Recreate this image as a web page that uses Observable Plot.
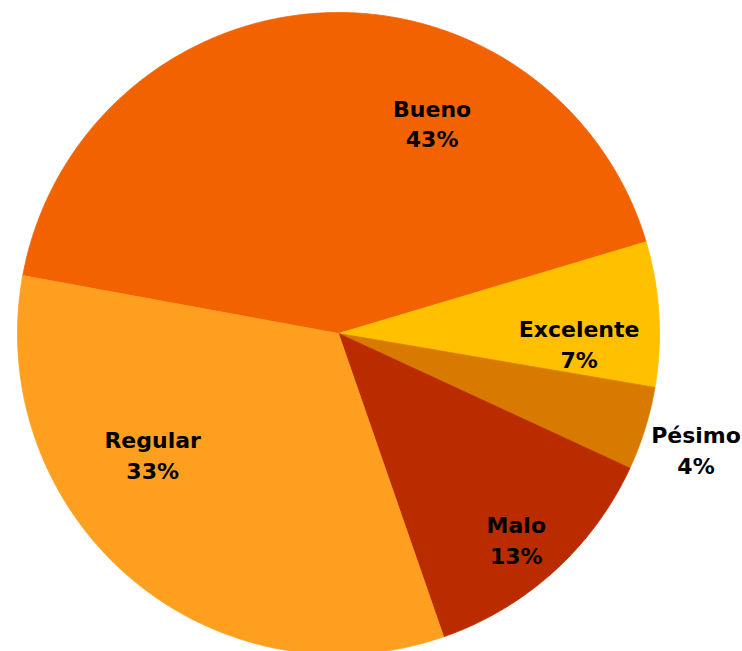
<!DOCTYPE html>
<html>
<head>
<meta charset="utf-8">
<script src="https://cdn.jsdelivr.net/npm/d3@7"></script>
<script src="https://cdn.jsdelivr.net/npm/@observablehq/plot@0.6"></script>
<style>
  html, body { margin: 0; padding: 0; background: #ffffff; }
  #chart svg { display: block; }
</style>
</head>
<body>
<div id="chart"></div>
<script>
// ---- Data ----
const categories = ["Bueno", "Excelente", "Pésimo", "Malo", "Regular"];
const values = [42.5, 7.3, 4.2, 12.8, 33.2];
const colors = ["#F36200", "#FFC000", "#D97A00", "#BA2C00", "#FF9F1F"];

// ---- Layout (label placement relative to slice middle) ----
const labelRadius = [0.72, 0.75, 1.17, 0.845, 0.69];
const labelTurnDeg = [27.0, 5.6, 0.6, 1.2, 16.4];
const startDeg = -79.6;

const W = 742, H = 651;
const cx = 338, cy = 333, R = 321;

const total = d3.sum(values);
const pie = d3.pie().sort(null).value(d => d.value)
  .startAngle(startDeg * Math.PI / 180)
  .endAngle(startDeg * Math.PI / 180 + 2 * Math.PI);

const rows = categories.map((c, i) => ({name: c, value: values[i], color: colors[i], i}));
const arcs = pie(rows);

// polygon points for each slice, in unit-circle data coordinates (y up)
const pts = [];
for (const a of arcs) {
  const name = a.data.name, color = a.data.color;
  pts.push({name, color, x: 0, y: 0});
  const n = Math.max(2, Math.ceil((a.endAngle - a.startAngle) / (0.4 * Math.PI / 180)));
  for (let k = 0; k <= n; k++) {
    const t = a.startAngle + (a.endAngle - a.startAngle) * k / n;
    pts.push({name, color, x: Math.sin(t), y: Math.cos(t)});
  }
  pts.push({name, color, x: 0, y: 0});
}

const labels = arcs.map(a => {
  const i = a.data.i;
  const mid = (a.startAngle + a.endAngle) / 2 + labelTurnDeg[i] * Math.PI / 180;
  const r = labelRadius[i];
  return {
    x: r * Math.sin(mid),
    y: r * Math.cos(mid),
    text: `${a.data.name}\n${Math.round(a.data.value / total * 100)}%`
  };
});

const chart = Plot.plot({
  width: W,
  height: H,
  margin: 0,
  x: {domain: [-cx / R, (W - cx) / R], axis: null},
  y: {domain: [(cy - H) / R, cy / R], axis: null},
  color: {type: "identity"},
  style: {background: "#ffffff", overflow: "visible"},
  marks: [
    Plot.line(pts, {x: "x", y: "y", z: "name", fill: "color", stroke: "color", strokeWidth: 0.8, curve: "linear-closed"}),
    Plot.text(labels, {
      x: "x", y: "y", text: "text",
      fontFamily: "DejaVu Sans", fontWeight: "bold", fontSize: 22,
      lineHeight: 1.4, fill: "#000000", textAnchor: "middle", lineAnchor: "middle"
    })
  ]
});

document.getElementById("chart").appendChild(chart);
</script>
</body>
</html>
